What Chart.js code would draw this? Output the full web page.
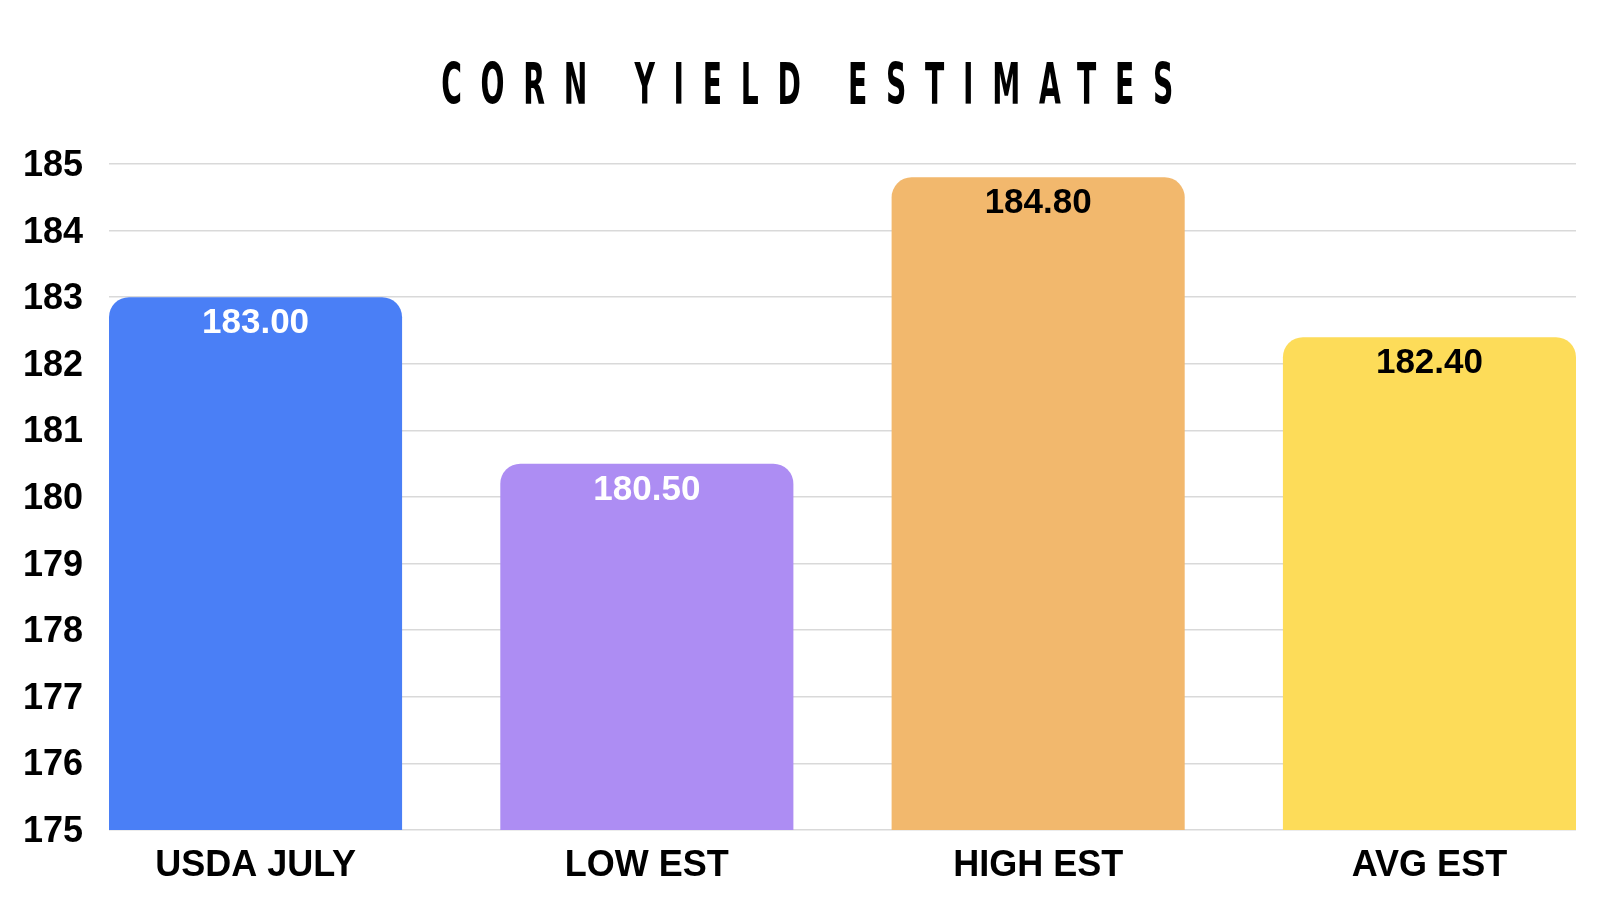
<!DOCTYPE html>
<html>
<head>
<meta charset="utf-8">
<script src="https://cdn.jsdelivr.net/npm/chart.js@4.4.1/dist/chart.umd.min.js"></script>
<style>
  html, body { margin: 0; padding: 0; background: #ffffff; }
  #wrap { position: relative; width: 1600px; height: 900px; background: #ffffff; }
  #title {
    position: absolute; left: 0; top: 56px; width: 1600px; text-align: center;
    font-family: "Liberation Sans Narrow", "DejaVu Sans Condensed", "Liberation Sans", sans-serif;
    font-weight: bold; font-size: 57px; line-height: 57px; color: #000;
  }
  #title span {
    display: inline-block; transform: scaleX(0.55); transform-origin: center;
    letter-spacing: 34px; margin-left: 33px;
  }
  #chartBox { position: absolute; left: 0; top: 0; width: 1600px; height: 900px; }
</style>
</head>
<body>
<div id="wrap">
  <div id="chartBox"><canvas id="c"></canvas></div>
  <div id="title"><span>CORN YIELD ESTIMATES</span></div>
</div>
<script>
const categories = ["USDA JULY", "LOW EST", "HIGH EST", "AVG EST"];
const yieldValues = [183.00, 180.50, 184.80, 182.40];
const yTicks = [175, 176, 177, 178, 179, 180, 181, 182, 183, 184, 185];

const barColors = ["#4a7ff6", "#ad8df3", "#f2b86d", "#fddc59"];
const labelColors = ["#ffffff", "#ffffff", "#000000", "#000000"];
const FONT = '"Liberation Sans", Arial, Helvetica, sans-serif';

const valueLabels = {
  id: 'valueLabels',
  afterDatasetsDraw(chart) {
    const ctx = chart.ctx;
    const meta = chart.getDatasetMeta(0);
    ctx.save();
    ctx.font = 'bold 35px ' + FONT;
    ctx.textAlign = 'center';
    ctx.textBaseline = 'alphabetic';
    meta.data.forEach((bar, i) => {
      ctx.fillStyle = labelColors[i];
      ctx.fillText(yieldValues[i].toFixed(2), bar.x, bar.y + 36);
    });
    ctx.restore();
  }
};

const bgPlugin = {
  id: 'bg',
  beforeDraw(chart) {
    const ctx = chart.ctx;
    ctx.save();
    ctx.fillStyle = '#ffffff';
    ctx.fillRect(0, 0, chart.width, chart.height);
    ctx.restore();
  }
};

new Chart(document.getElementById('c'), {
  type: 'bar',
  data: {
    datasets: [{
      data: yieldValues.map((v, i) => ({ x: i, y: v })),
      backgroundColor: barColors,
      borderWidth: 0,
      borderRadius: 20,
      barPercentage: 0.749,
      categoryPercentage: 1.0
    }]
  },
  options: {
    responsive: true,
    maintainAspectRatio: false,
    devicePixelRatio: 1,
    animation: false,
    layout: { padding: { left: 0, right: 24, top: 164, bottom: 0 } },
    plugins: {
      legend: { display: false },
      title: { display: false },
      tooltip: { enabled: false }
    },
    scales: {
      x: {
        type: 'linear',
        offset: false,
        min: -0.3745,
        max: categories.length - 1 + 0.3745,
        afterBuildTicks(scale) {
          scale.ticks = categories.map((c, i) => ({ value: i }));
        },
        afterFit(scale) { scale.height = 70; },
        grid: { display: false },
        border: { display: false },
        ticks: {
          padding: 6,
          color: '#000',
          font: { family: FONT, size: 36, weight: 'bold' },
          maxRotation: 0,
          autoSkip: false,
          callback: (v) => categories[v]
        }
      },
      y: {
        min: yTicks[0],
        max: yTicks[yTicks.length - 1],
        afterBuildTicks(scale) {
          scale.ticks = yTicks.map(v => ({ value: v }));
        },
        afterFit(scale) { scale.width = 109; },
        grid: { color: '#d9d9d9', lineWidth: 1.5, drawTicks: false },
        border: { display: false },
        ticks: {
          padding: 26,
          labelOffset: 2,
          color: '#000',
          font: { family: FONT, size: 36, weight: 'bold' }
        }
      }
    }
  },
  plugins: [bgPlugin, valueLabels]
});
</script>
</body>
</html>
